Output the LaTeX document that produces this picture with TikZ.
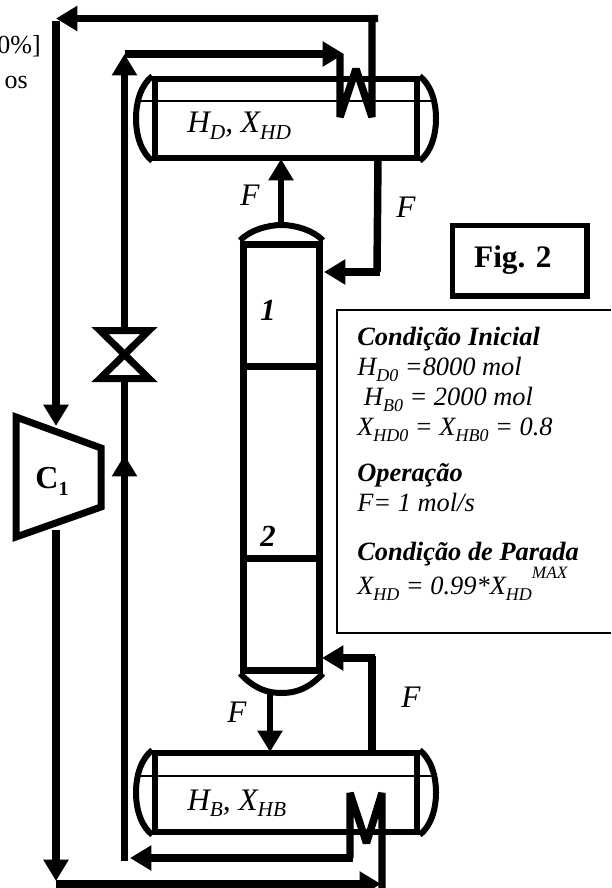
\documentclass[tikz,border=0pt]{standalone}
\usepackage{fontspec}
\setmainfont{Liberation Serif}
\usepackage{tikz}
\usetikzlibrary{arrows.meta,positioning,calc}

\newcommand{\lowidx}[2][13.5]{\raisebox{-0.22em}{\fontsize{#1}{#1}\selectfont #2}}
\newcommand{\highidx}[1]{\raisebox{0.62em}{\fontsize{13}{13}\selectfont #1}}

\tikzset{
    pipe/.style={draw, line width=5.6pt},
    flow/.style={pipe, -{Triangle[length=16pt, width=18pt]}},
    coil/.style={draw, line width=5.6pt, line join=bevel},
    drum/.style={draw, rectangle, line width=4.5pt, minimum width=196pt, minimum height=59pt, inner sep=0pt},
    drumcap/.style={draw, line width=4.5pt},
    liquid/.style={draw, line width=1.2pt},
    tray/.style={draw, line width=5.25pt},
    lbl/.style={font=\fontsize{23.5}{26}\selectfont\itshape, inner sep=0pt},
    traylbl/.style={font=\fontsize{23}{25}\selectfont\bfseries\itshape, inner sep=0pt},
    plain/.style={anchor=base east, inner sep=0pt, font=\fontsize{19.5}{22}\selectfont},
}

\begin{document}
\begin{tikzpicture}[x=0.75pt, y=-0.75pt]
    \useasboundingbox (0,0) rectangle (611,888);

    % left side text, cut by the page
    \node [plain] (txtA) at (41,54) {0\%]};
    \node [plain] (txtB) at (28,89) {os};

    % drums
    \node [drum] (hd) at (286,118.5) {};
    \node [drum] (hb) at (286,792.5) {};
    \draw [drumcap] (hd.north west) .. controls (142,84) and (136,100) .. (136,118.5) .. controls (136,137) and (142,153) .. (hd.south west);
    \draw [drumcap] (hd.north east) .. controls (430,84) and (436,100) .. (436,118.5) .. controls (436,137) and (430,153) .. (hd.south east);
    \draw [drumcap] (hb.north west) .. controls (142,758) and (136,774) .. (136,792.5) .. controls (136,811) and (142,827) .. (hb.south west);
    \draw [drumcap] (hb.north east) .. controls (430,758) and (436,774) .. (436,792.5) .. controls (436,811) and (430,827) .. (hb.south east);
    \path [liquid] (136,101) -- (436,101);
    \path [liquid] (136,776) -- (436,776);
    \node [lbl, anchor=base west] (hdtxt) at (187,133) {H\lowidx[16]{D}, X\lowidx[16]{HD}};
    \node [lbl, anchor=base west] (hbtxt) at (187,810) {H\lowidx[16]{B}, X\lowidx[16]{HB}};

    % column
    \node [draw, rectangle, line width=5.25pt, minimum width=57pt, minimum height=319.5pt, inner sep=0pt] (col) at (281.5,457) {};
    \draw [drumcap] (col.north west) .. controls (250,230) and (268,225) .. (281.5,225) .. controls (295,225) and (313,230) .. (col.north east);
    \draw [drumcap] (col.south west) .. controls (250,684) and (262,693) .. (281.5,693) .. controls (301,693) and (313,684) .. (col.south east);
    \coordinate (tA) at (281.5,366);
    \coordinate (tB) at (281.5,558);
    \path [tray] (tA -| col.west) -- (tA -| col.east);
    \path [tray] (tB -| col.west) -- (tB -| col.east);
    \node [traylbl] (nA) at (268,310) {1};
    \node [traylbl] (nB) at (268,536) {2};

    % compressor and valve
    \draw [line width=5.25pt, miter limit=10] (16,417) -- (101,448) -- (101,507) -- (16,537) -- cycle;
    \node [inner sep=0pt, font=\fontsize{24}{26}\selectfont\bfseries] (cmp) at (52,481) {C\lowidx[15]{1}};
    \coordinate (cmpIn) at (56,426);
    \coordinate (cmpOut) at (56,530);
    \draw [line width=5.25pt, miter limit=10] (100,330.5) -- (149,330.5) -- (100,378.5) -- (149,378.5) -- cycle;
    \coordinate (vlvTop) at (124.5,330);
    \coordinate (vlvBot) at (124.5,379);

    % lines around the condenser
    \coordinate (tl) at (56,18.5);
    \coordinate (tr) at (372,18.5);
    \coordinate (wA) at (340,54);
    \coordinate (wB) at (356,69);
    \coordinate (wC) at (372,117);
    \coordinate (vt) at (124.5,54);
    \path [flow] (vlvTop) -- (vt);
    \path [flow] (vt) -- (344,54);
    \path [coil] (wA) -- (340,117) -- (wB) -- (wC) -- (tr) -- ([xshift=4.5pt]tr);
    \path [flow] (tr) -- (tl);
    \path [flow] ([yshift=-2pt]tl) -- (cmpIn);

    % lines around the reboiler
    \coordinate (rA) at (350,793);
    \coordinate (rB) at (366.5,843);
    \coordinate (rC) at (382,793);
    \coordinate (rD) at (382,888);
    \coordinate (bl) at (56,884);
    \coordinate (vb) at (124.5,858);
    \path [flow] (cmpOut) -- (56,881);
    \path [flow] (bl) -- (381,884);
    \path [coil] (rD) -- (rC) -- (rB) -- (rA) -- (350,858);
    \path [flow] (353,858) -- (130,858);
    \path [flow] ([yshift=-2pt]vb) -- (124.5,455);
    \path [pipe] (124.5,470) -- (vlvBot);

    % column connections
    \coordinate (fAs) at (281,226);
    \coordinate (fAe) at (281,159);
    \coordinate (fCs) at (270,693);
    \coordinate (fCe) at (270,752);
    \path [flow, line width=4.8pt] (fAs) -- (fAe);
    \path [pipe] (378,158) -- (377,272);
    \path [flow] (380,272) -- (324,272);
    \path [flow, line width=4.8pt] (fCs) -- (fCe);
    \path [pipe] (372,753) -- (372,656);
    \path [flow] (375,658) -- (322,658);
    \node [lbl] (fA) at (250,195) {F};
    \node [lbl] (fB) at (406,207) {F};
    \node [lbl] (fC) at (237,712) {F};
    \node [lbl] (fD) at (411,697) {F};

    % figure tag and info box
    \node [draw, rectangle, line width=4pt, minimum width=101pt, minimum height=53pt, font=\fontsize{23.5}{26}\selectfont\bfseries, inner sep=0pt] (tag) at (519.5,260.5) {Fig. 2\hspace*{10pt}};
    \path [draw, line width=2.2pt] (611,310) -- (337,310) -- (337,633) -- (611,633);
    \node [anchor=north west, align=left, inner sep=0pt, font=\fontsize{19.8}{22.5}\selectfont\itshape] (info) at (357,327) {%
        \textbf{Condição Inicial}\\
        H\lowidx{D0} =8000 mol\\
        \hspace*{5pt}H\lowidx{B0} = 2000 mol\\
        X\lowidx{HD0} = X\lowidx{HB0} = 0.8\\[12pt]
        \textbf{Operação}\\
        F= 1 mol/s\\[14pt]
        \textbf{Condição de Parada}\\
        X\lowidx{HD} = 0.99*X\lowidx{HD}\highidx{MAX}};
\end{tikzpicture}
\end{document}
